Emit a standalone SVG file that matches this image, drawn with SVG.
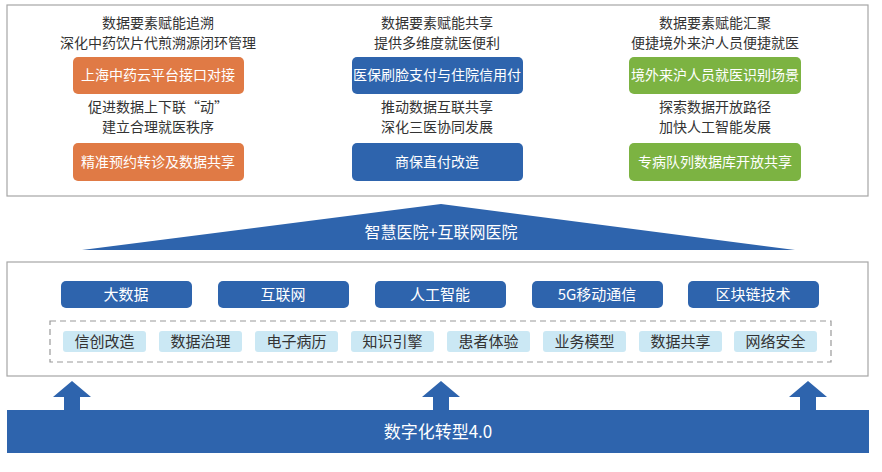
<svg xmlns="http://www.w3.org/2000/svg" width="882" height="472" viewBox="0 0 882 472">
<style>
text{font-family:"Noto Sans CJK SC","Noto Sans",sans-serif;text-anchor:middle}
.frame{fill:#fff;stroke:#a6a6a6;stroke-width:1.2}
.cap{font-size:14px;fill:#333}
.btn{font-size:14px;fill:#fff}
.o{fill:#e07a45}.b{fill:#2e64ad}.g{fill:#7cb342}
.tech{font-size:15px;fill:#fff}
.tag{fill:#cbe8f4}
.tagt{font-size:15px;fill:#333}
.arr{fill:#2e64ad}
</style>
<rect width="882" height="472" fill="#fff"/>
<rect class="frame" x="7" y="5" width="861" height="191"/>
<g id="col1">
<text class="cap" x="158" y="28">数据要素赋能追溯</text>
<text class="cap" x="158" y="48">深化中药饮片代煎溯源闭环管理</text>
<rect class="o" x="73" y="57" width="171" height="37" rx="5"/>
<text class="btn" x="158" y="80">上海中药云平台接口对接</text>
<text class="cap" x="158" y="112">促进数据上下联“动”</text>
<text class="cap" x="158" y="132">建立合理就医秩序</text>
<rect class="o" x="73" y="143" width="171" height="38" rx="5"/>
<text class="btn" x="158" y="167">精准预约转诊及数据共享</text>
</g>
<g id="col2">
<text class="cap" x="437" y="28">数据要素赋能共享</text>
<text class="cap" x="437" y="48">提供多维度就医便利</text>
<rect class="b" x="352" y="57" width="171" height="37" rx="5"/>
<text class="btn" x="437" y="80">医保刷脸支付与住院信用付</text>
<text class="cap" x="437" y="112">推动数据互联共享</text>
<text class="cap" x="437" y="132">深化三医协同发展</text>
<rect class="b" x="352" y="143" width="171" height="38" rx="5"/>
<text class="btn" x="437" y="167">商保直付改造</text>
</g>
<g id="col3">
<text class="cap" x="715" y="28">数据要素赋能汇聚</text>
<text class="cap" x="715" y="48">便捷境外来沪人员便捷就医</text>
<rect class="g" x="629" y="57" width="172" height="37" rx="5"/>
<text class="btn" x="715" y="80">境外来沪人员就医识别场景</text>
<text class="cap" x="715" y="112">探索数据开放路径</text>
<text class="cap" x="715" y="132">加快人工智能发展</text>
<rect class="g" x="629" y="143" width="172" height="38" rx="5"/>
<text class="btn" x="715" y="167">专病队列数据库开放共享</text>
</g>
<g id="roof">
<polygon class="b" points="82,250 441,204 795,250"/>
<text x="441" y="238" style="font-size:16px;fill:#fff">智慧医院+互联网医院</text>
</g>
<rect class="frame" x="7" y="262" width="861" height="114"/>
<g id="tech">
<rect class="b" x="61" y="281" width="131" height="27" rx="5"/><text class="tech" x="126" y="300">大数据</text>
<rect class="b" x="218" y="281" width="131" height="27" rx="5"/><text class="tech" x="283" y="300">互联网</text>
<rect class="b" x="375" y="281" width="131" height="27" rx="5"/><text class="tech" x="440" y="300">人工智能</text>
<rect class="b" x="532" y="281" width="131" height="27" rx="5"/><text class="tech" x="597" y="300">5G移动通信</text>
<rect class="b" x="688" y="281" width="131" height="27" rx="5"/><text class="tech" x="753" y="300">区块链技术</text>
</g>
<g id="tags">
<rect x="50" y="321" width="781" height="41" fill="none" stroke="#999" stroke-width="1.2" stroke-dasharray="6,4"/>
<rect class="tag" x="63" y="331" width="83" height="21" rx="3"/><text class="tagt" x="104.5" y="347">信创改造</text>
<rect class="tag" x="159" y="331" width="83" height="21" rx="3"/><text class="tagt" x="200.5" y="347">数据治理</text>
<rect class="tag" x="255" y="331" width="83" height="21" rx="3"/><text class="tagt" x="296.5" y="347">电子病历</text>
<rect class="tag" x="351" y="331" width="83" height="21" rx="3"/><text class="tagt" x="392.5" y="347">知识引擎</text>
<rect class="tag" x="447" y="331" width="83" height="21" rx="3"/><text class="tagt" x="488.5" y="347">患者体验</text>
<rect class="tag" x="543" y="331" width="83" height="21" rx="3"/><text class="tagt" x="584.5" y="347">业务模型</text>
<rect class="tag" x="639" y="331" width="83" height="21" rx="3"/><text class="tagt" x="680.5" y="347">数据共享</text>
<rect class="tag" x="734" y="331" width="83" height="21" rx="3"/><text class="tagt" x="775.5" y="347">网络安全</text>
</g>
<g id="connectors">
<polygon class="arr" points="72,381 91,397 80,397 80,411 64,411 64,397 53,397"/>
<polygon class="arr" points="441,381 460,397 449,397 449,411 433,411 433,397 422,397"/>
<polygon class="arr" points="808,381 827,397 816,397 816,411 800,411 800,397 789,397"/>
</g>
<g id="base">
<rect class="b" x="7" y="410" width="862" height="43"/>
<text x="438" y="438" style="font-size:17px;fill:#fff">数字化转型4.0</text>
</g>
</svg>
